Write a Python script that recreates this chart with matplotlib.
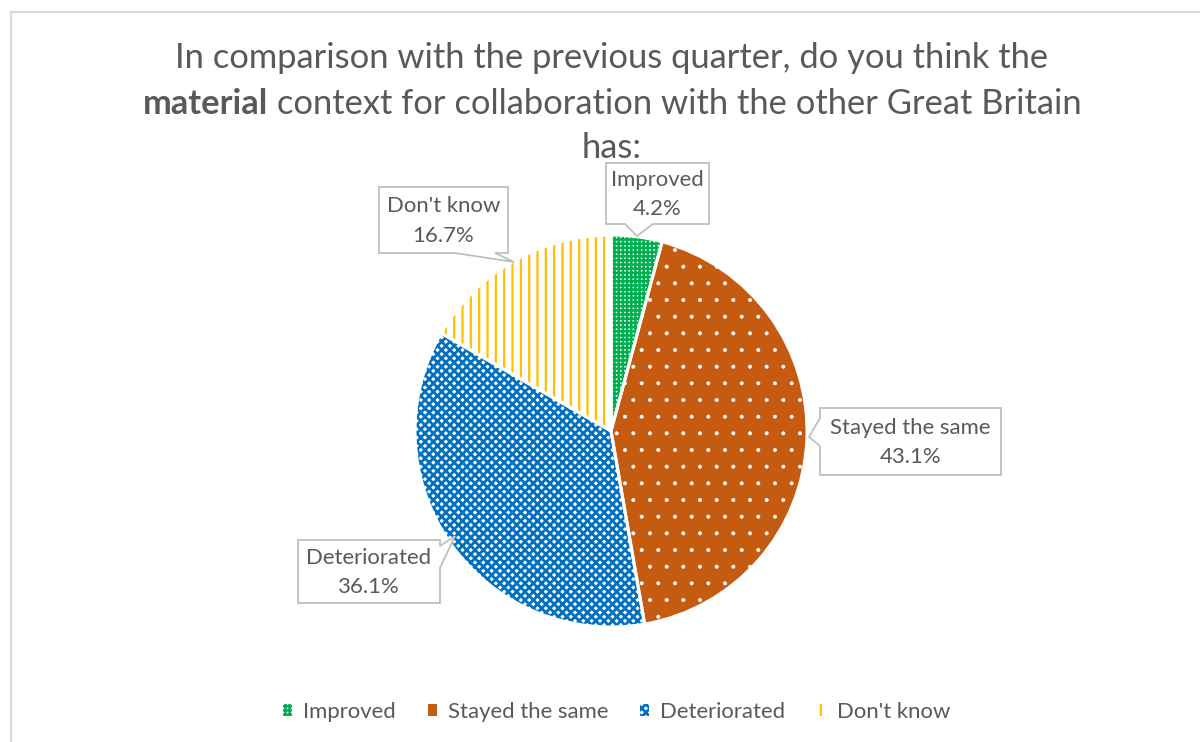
import matplotlib
matplotlib.use('Agg')
import matplotlib.pyplot as plt
from matplotlib.patches import Polygon, Patch

# ---- data ----
categories = ["Improved", "Stayed the same", "Deteriorated", "Don't know"]
values = [4.2, 43.1, 36.1, 16.7]
pct_labels = ["4.2%", "43.1%", "36.1%", "16.7%"]
title_line1 = "In comparison with the previous quarter, do you think the"
title_bold = "material"
title_rest = " context for collaboration with the other Great Britain"
title_line3 = "has:"

# ---- styles ----
W, H = 1200, 742
FONT = 'Lato'
TXT = '#595959'
face = ['white', '#C55A11', 'white', 'white']
hatch_col = ['#00B050', 'white', '#0070C0', '#FFC000']
hatches = ['++++', '.', 'xxxx', '||']
hatch_lw = [1.8, 0.4, 2.0, 1.6]

fig = plt.figure(figsize=(W / 100, H / 100), dpi=100)

def fx(x):
    return x / W

def fy(y):
    return 1 - y / H

def with_hatch_lw(artist, lw):
    orig = artist.draw
    def draw(renderer, _orig=orig, _lw=lw):
        with matplotlib.rc_context({'hatch.linewidth': _lw}):
            if hasattr(artist, 'set_hatch_linewidth'):
                artist.set_hatch_linewidth(_lw)
            return _orig(renderer)
    artist.draw = draw

# chart border (top and left visible)
fig.add_artist(plt.Line2D([fx(11), fx(11)], [fy(12), fy(760)], color='#D9D9D9', lw=1.5))
fig.add_artist(plt.Line2D([fx(11), fx(1220)], [fy(12), fy(12)], color='#D9D9D9', lw=1.5))

# ---- pie ----
cx, cy, R = 611, 431, 196
ax = fig.add_axes([fx(cx - R), fy(cy + R), 2 * R / W, 2 * R / H])
wedges, _ = ax.pie(values, startangle=90, counterclock=False, colors=face,
                   wedgeprops=dict(linewidth=0), radius=1)
for w, hc, h, lw in zip(wedges, hatch_col, hatches, hatch_lw):
    w.set_edgecolor(hc)
    w.set_hatch(h)
    w.set_linewidth(0)
    with_hatch_lw(w, lw)
# separators
sep, _ = ax.pie(values, startangle=90, counterclock=False, colors=['none'] * 4,
                wedgeprops=dict(linewidth=2.2, edgecolor='white', fill=False), radius=1)
for s in sep:
    s.set_clip_on(False)
ax.set_xlim(-1.0, 1.0)
ax.set_ylim(-1.0, 1.0)
ax.set_aspect('equal')
ax.axis('off')

# ---- title ----
fig.text(fx(612), fy(68), title_line1, family=FONT, fontsize=24.8, color=TXT,
         ha='center', va='baseline')
fig.text(fx(612), fy(158), title_line3, family=FONT, fontsize=24.8, color=TXT,
         ha='center', va='baseline')
r = fig.canvas.get_renderer()
tb = fig.text(0, fy(114), title_bold, family=FONT, fontsize=24.8, color=TXT,
              weight='bold', ha='left', va='baseline')
tr = fig.text(0, fy(114), title_rest, family=FONT, fontsize=24.8, color=TXT,
              ha='left', va='baseline')
wb = tb.get_window_extent(r).width
wr = tr.get_window_extent(r).width
x0 = 612 - (wb + wr) / 2
tb.set_x(fx(x0))
tr.set_x(fx(x0 + wb))

# ---- callouts ----
def callout(box, side, base, tip, text):
    x0, y0, x1, y1 = box
    b0, b1 = base
    if side == 'bottom':
        pts = [(x0, y0), (x1, y0), (x1, y1), (b1, y1), tip, (b0, y1), (x0, y1)]
    elif side == 'left':
        pts = [(x0, y0), (x1, y0), (x1, y1), (x0, y1), (x0, b1), tip, (x0, b0)]
    else:  # right
        pts = [(x0, y0), (x1, y0), (x1, b0), tip, (x1, b1), (x1, y1), (x0, y1)]
    poly = Polygon([(fx(a), fy(b)) for a, b in pts], closed=True,
                   transform=fig.transFigure, facecolor='white',
                   edgecolor='#BFBFBF', lw=1.3, zorder=5)
    fig.add_artist(poly)
    fig.text(fx((x0 + x1) / 2), fy((y0 + y1) / 2 + 1), text, family=FONT,
             fontsize=15.9, color=TXT, ha='center', va='center',
             linespacing=1.6, zorder=6)

boxes = [
    ((606, 163, 709, 224), 'bottom', (625, 653), (637, 236)),
    ((820, 408, 1001, 475), 'left', (418, 446), (809, 437)),
    ((298, 540, 440, 603), 'right', (546, 568), (455, 536)),
    ((379, 187, 508, 253), 'bottom', (455, 495), (514, 262)),
]
for (box, side, base, tip), cat, pl in zip(boxes, categories, pct_labels):
    callout(box, side, base, tip, f"{cat}\n{pl}")

# ---- legend ----
handles = []
for f, hc, h, lw in zip(face, hatch_col, hatches, hatch_lw):
    p = Patch(facecolor=f, edgecolor=hc, hatch=h, linewidth=0)
    handles.append(p)
leg = fig.legend(handles, categories, loc='center', bbox_to_anchor=(fx(617), fy(712)),
                 ncol=4, frameon=False, handlelength=0.4, handleheight=0.45,
                 handletextpad=0.5, columnspacing=1.45,
                 prop=dict(family=FONT, size=15.9))
for t in leg.get_texts():
    t.set_color(TXT)
for p, lw in zip(leg.get_patches(), hatch_lw):
    with_hatch_lw(p, lw)

fig.savefig('out.png', dpi=100, facecolor='white')
